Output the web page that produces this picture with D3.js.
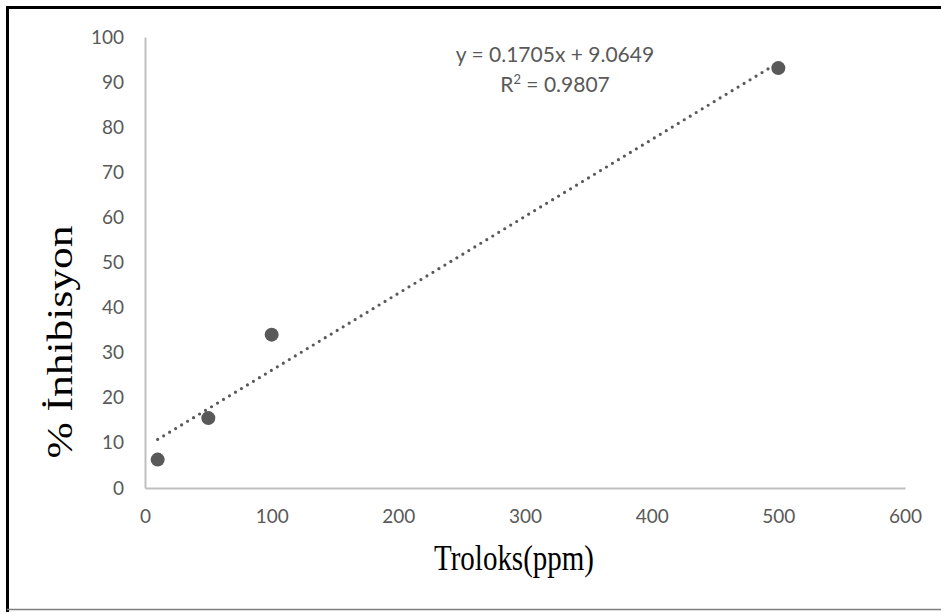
<!DOCTYPE html>
<html>
<head>
<meta charset="utf-8">
<script src="https://cdn.jsdelivr.net/npm/d3@7"></script>
<style>
	body { margin: 0; background: #fff; }
	.tick text { font-family: Lato, "Open Sans", sans-serif; fill: #595959; }
</style>
</head>
<body>
<svg id="chart"></svg>
<script type="text/javascript">

	// data
	let troloks = [10, 50, 100, 500]
	let inhibisyon = [6.3, 15.5, 34.0, 93.1]
	let xTicks = [0, 100, 200, 300, 400, 500, 600]
	let yTicks = [0, 10, 20, 30, 40, 50, 60, 70, 80, 90, 100]
	let slope = 0.1705
	let intercept = 9.0649
	let equationText = "y = 0.1705x + 9.0649"
	let r2Value = "0.9807"

	let width = 941
	let height = 612
	let plotLeft = 145, plotRight = 905, plotTop = 37, plotBottom = 488

	let svg = d3.select("#chart")
		.attr("width", width)
		.attr("height", height)

	// frame round the chart
	svg.append("line").attr("x1", 7.5).attr("x2", width).attr("y1", 7.5).attr("y2", 7.5)
		.attr("stroke", "#000").attr("stroke-width", 3)
	svg.append("line").attr("x1", 7.5).attr("x2", 7.5).attr("y1", 6).attr("y2", height)
		.attr("stroke", "#000").attr("stroke-width", 3)
	svg.append("line").attr("x1", 7).attr("x2", width).attr("y1", 609.5).attr("y2", 609.5)
		.attr("stroke", "#7f7f7f").attr("stroke-width", 1.5)

	let xScale = d3.scaleLinear().domain([0, 600]).range([plotLeft, plotRight])
	let yScale = d3.scaleLinear().domain([0, 100]).range([plotBottom, plotTop])

	let xAxis = d3.axisBottom(xScale).tickValues(xTicks).tickSize(0).tickPadding(22)
	let yAxis = d3.axisLeft(yScale).tickValues(yTicks).tickSize(0).tickPadding(21)

	let xAxisGlyph = svg.append("g")
		.attr("transform", "translate(0," + plotBottom + ")")
		.call(xAxis)
	let yAxisGlyph = svg.append("g")
		.attr("transform", "translate(" + plotLeft + ",0)")
		.call(yAxis)

	svg.selectAll(".domain").attr("stroke", "#bfbfbf").attr("stroke-width", 2)
	svg.selectAll(".tick text").style("font-size", "19px")

	// dotted trend line from the regression
	let xs = d3.extent(troloks)
	let trend = xs.map(function(x){ return [x, slope * x + intercept] })
	let lineGenerator = d3.line()
		.x(function(d){ return xScale(d[0]) })
		.y(function(d){ return yScale(d[1]) })

	svg.append("path")
		.attr("d", lineGenerator(trend))
		.attr("fill", "none")
		.attr("stroke", "#595959")
		.attr("stroke-width", 3.2)
		.attr("stroke-linecap", "round")
		.attr("stroke-dasharray", "0 7")

	svg.selectAll("circle.pt")
		.data(troloks)
		.enter().append("circle")
		.classed("pt", true)
		.attr("cx", function(d){ return xScale(d) })
		.attr("cy", function(d, i){ return yScale(inhibisyon[i]) })
		.attr("r", 7)
		.attr("fill", "#595959")

	// equation label
	svg.append("text")
		.attr("x", 555).attr("y", 62)
		.attr("text-anchor", "middle")
		.style("font-family", "Lato, 'Open Sans', sans-serif")
		.style("font-size", "21px")
		.style("fill", "#595959")
		.text(equationText)

	let r2 = svg.append("text")
		.attr("x", 555).attr("y", 92)
		.attr("text-anchor", "middle")
		.style("font-family", "Lato, 'Open Sans', sans-serif")
		.style("font-size", "21px")
		.style("fill", "#595959")
	r2.append("tspan").text("R")
	r2.append("tspan").attr("dy", -8).style("font-size", "13px").text("2")
	r2.append("tspan").attr("dy", 8).text(" = " + r2Value)

	// axis titles (the reference text is stretched vertically)
	svg.append("text")
		.attr("transform", "translate(514,570) scale(1,1.2)")
		.attr("text-anchor", "middle")
		.style("font-family", "'Liberation Serif', 'Times New Roman', serif")
		.style("font-size", "29px")
		.style("fill", "#000")
		.text("Troloks(ppm)")

	svg.append("text")
		.attr("transform", "translate(72,342) rotate(-90) scale(1.5,1.2)")
		.attr("text-anchor", "middle")
		.style("font-family", "'Liberation Serif', 'Times New Roman', serif")
		.style("font-size", "29px")
		.style("fill", "#000")
		.text("% İnhibisyon")

</script>
</body>
</html>
